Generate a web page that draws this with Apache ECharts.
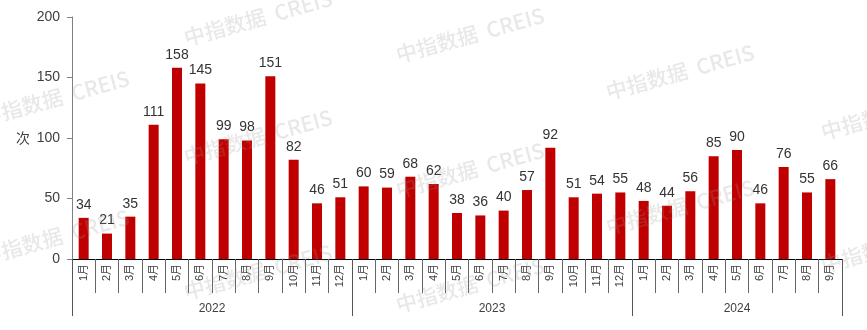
<!DOCTYPE html>
<html>
<head>
<meta charset="utf-8">
<script src="https://cdn.jsdelivr.net/npm/echarts@6/dist/echarts.min.js"></script>
<style>html,body{margin:0;padding:0;background:#fff}#c{width:867px;height:330px}</style>
</head>
<body>
<div id="c"></div>
<script>
var years = ['2022', '2023', '2024'];
var monthCounts = [12, 12, 9];
var values2022 = [34, 21, 35, 111, 158, 145, 99, 98, 151, 82, 46, 51];
var values2023 = [60, 59, 68, 62, 38, 36, 40, 57, 92, 51, 54, 55];
var values2024 = [48, 44, 56, 85, 90, 46, 76, 55, 66];
var yTicks = [0, 50, 100, 150, 200];
var unitLabel = '次';

var values = values2022.concat(values2023, values2024);
var categories = [];
monthCounts.forEach(function (n) { for (var m = 1; m <= n; m++) categories.push(m + '月'); });

// half-step axis for year group labels and separators
var total = categories.length;
var halfData = [];
for (var k = 0; k <= total * 2; k++) halfData.push('');
var sepIdx = [0];
var acc = 0;
years.forEach(function (y, i) {
  var start = acc;
  acc += monthCounts[i];
  halfData[start + acc] = y; // midpoint in half steps
  sepIdx.push(acc * 2);
});

var FONT = '"Liberation Sans", Arial, "Noto Sans CJK SC", sans-serif';
var TXT = '#404040';

var wm = [[258, 18], [55, 98], [258, 137], [470, 35], [680, 72], [895, 112], [55, 237], [258, 272], [470, 170], [470, 285], [680, 207], [895, 245]];
var graphics = wm.map(function (p) {
  return {
    type: 'text', x: p[0], y: p[1], rotation: 0.27, z: 100, silent: true,
    style: { text: '中指数据  CREIS', font: '500 21px "Noto Sans CJK SC", sans-serif', fill: 'rgba(150,150,150,0.22)', align: 'center', verticalAlign: 'middle' }
  };
});

var chart = echarts.init(document.getElementById('c'), null, { renderer: 'canvas' });
chart.setOption({
  animation: false,
  backgroundColor: '#fff',
  textStyle: { fontFamily: FONT },
  grid: { left: 72, right: 25, top: 17, bottom: 71, containLabel: false },
  xAxis: [{
    type: 'category', data: categories, position: 'bottom', boundaryGap: true,
    axisLine: { lineStyle: { color: '#000', width: 1 } },
    axisTick: { show: true, length: 34, lineStyle: { color: '#666' } },
    axisLabel: { interval: 0, rotate: 90, margin: 5, fontSize: 11, color: TXT, fontFamily: FONT }
  }, {
    type: 'category', data: halfData, position: 'bottom', boundaryGap: false,
    axisLine: { show: false },
    axisTick: { show: true, length: 57, interval: function (i) { return sepIdx.indexOf(i) >= 0; }, lineStyle: { color: '#555' } },
    axisLabel: { interval: function (i, v) { return v !== ''; }, margin: 44, fontSize: 12, color: TXT, fontFamily: FONT }
  }],
  yAxis: {
    type: 'value', min: yTicks[0], max: yTicks[yTicks.length - 1], interval: yTicks[1] - yTicks[0],
    name: unitLabel, nameLocation: 'middle', nameRotate: 0, nameGap: 42,
    nameTextStyle: { fontSize: 14, color: TXT, fontFamily: '"Noto Sans CJK SC", sans-serif' },
    axisLine: { show: true, lineStyle: { color: '#808080' } },
    axisTick: { show: true, length: 5, lineStyle: { color: '#808080' } },
    axisLabel: { fontSize: 14, color: TXT, margin: 12, fontFamily: FONT },
    splitLine: { show: false }
  },
  series: [{
    type: 'bar', data: values, barWidth: 10, xAxisIndex: 0,
    itemStyle: { color: '#C00000' },
    label: { show: true, position: 'top', distance: 6, fontSize: 14, color: '#333', fontFamily: FONT }
  }],
  graphic: graphics
});
</script>
</body>
</html>
